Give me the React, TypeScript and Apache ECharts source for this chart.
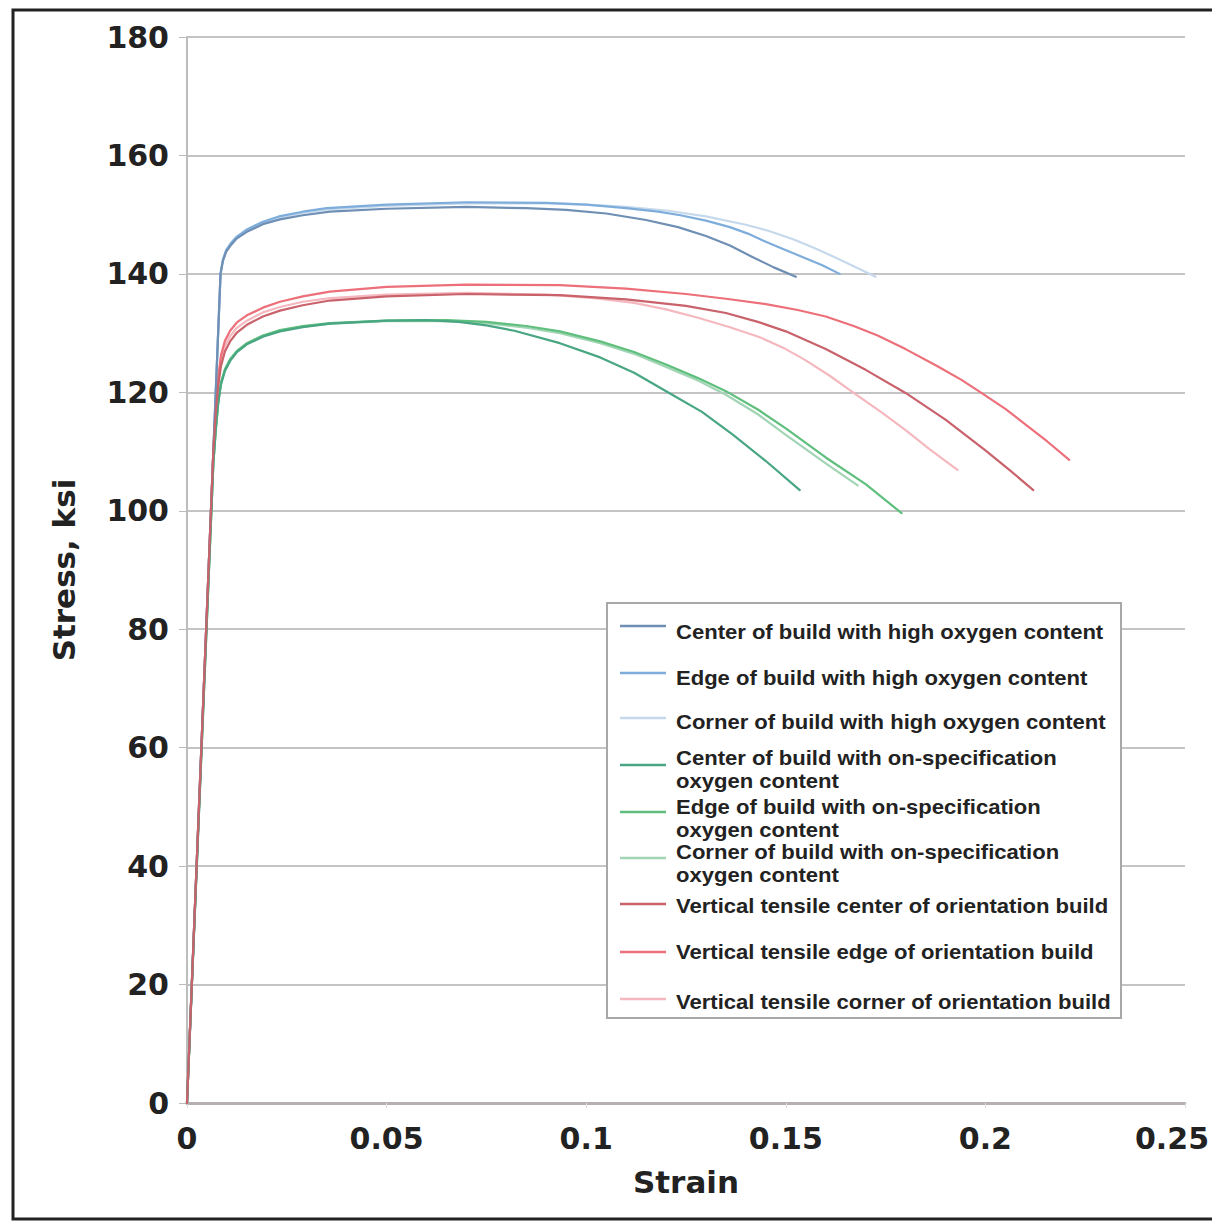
import React, { useEffect, useRef } from "react";
import * as echarts from "echarts";

// ---------- data ----------
const seriesNames = [
  "Center of build with high oxygen content",
  "Edge of build with high oxygen content",
  "Corner of build with high oxygen content",
  "Center of build with on-specification\noxygen content",
  "Edge of build with on-specification\noxygen content",
  "Corner of build with on-specification\noxygen content",
  "Vertical tensile center of orientation build",
  "Vertical tensile edge of orientation build",
  "Vertical tensile corner of orientation build",
];

const seriesColors = [
  "#6f8fb4",
  "#7eaddb",
  "#c6d9ec",
  "#48a682",
  "#5fbf7d",
  "#a2d5b5",
  "#c9626b",
  "#ec6f79",
  "#f4b8be",
];

const centerHighO: [number, number][] = [
  [0, 0], [0.0084, 140], [0.009, 142.2], [0.0098, 143.7], [0.0108, 144.7], [0.0125, 146.0],
  [0.015, 147.1], [0.019, 148.4], [0.0233, 149.2], [0.029, 149.9], [0.0358, 150.5], [0.05, 151.0],
  [0.07, 151.3], [0.085, 151.1], [0.095, 150.8], [0.105, 150.2], [0.115, 149.1], [0.123, 147.9],
  [0.13, 146.4], [0.136, 144.8], [0.1415, 142.9], [0.147, 141.1], [0.1525, 139.5],
];
const edgeHighO: [number, number][] = [
  [0, 0], [0.0084, 140], [0.009, 142.4], [0.0098, 144.0], [0.011, 145.2], [0.0125, 146.3],
  [0.015, 147.5], [0.019, 148.8], [0.023, 149.7], [0.029, 150.5], [0.035, 151.1], [0.05, 151.7],
  [0.07, 152.1], [0.09, 152.0], [0.1, 151.7], [0.11, 151.1], [0.118, 150.5], [0.1236, 149.9],
  [0.13, 149.0], [0.136, 147.9], [0.1405, 146.8], [0.1444, 145.6], [0.149, 144.3], [0.154, 142.9],
  [0.159, 141.5], [0.1635, 140.0],
];
const cornerHighO: [number, number][] = [
  [0, 0], [0.0084, 140], [0.009, 142.3], [0.0098, 143.9], [0.011, 145.0], [0.0125, 146.1],
  [0.015, 147.3], [0.019, 148.6], [0.023, 149.5], [0.029, 150.3], [0.035, 150.9], [0.05, 151.5],
  [0.07, 151.9], [0.09, 151.9], [0.1, 151.7], [0.11, 151.3], [0.12, 150.7], [0.13, 149.7],
  [0.14, 148.3], [0.146, 147.2], [0.152, 145.8], [0.157, 144.4], [0.162, 142.9], [0.167, 141.3],
  [0.1725, 139.5],
];
const centerSpecO: [number, number][] = [
  [0, 0], [0.0066, 108], [0.0072, 113.5], [0.0078, 118.0], [0.0085, 121.3], [0.0095, 123.6],
  [0.0108, 125.3], [0.0125, 126.8], [0.015, 128.1], [0.019, 129.4], [0.0233, 130.3], [0.029, 131.0],
  [0.0358, 131.6], [0.05, 132.1], [0.06, 132.2], [0.068, 131.9], [0.075, 131.3], [0.082, 130.4],
  [0.0934, 128.3], [0.1035, 125.9], [0.112, 123.3], [0.121, 119.8], [0.129, 116.7], [0.1368, 112.8],
  [0.145, 108.4], [0.1535, 103.5],
];
const edgeSpecO: [number, number][] = [
  [0, 0], [0.0066, 108], [0.0072, 113.8], [0.0078, 118.3], [0.0085, 121.6], [0.0095, 123.9],
  [0.0108, 125.6], [0.0125, 127.0], [0.015, 128.3], [0.019, 129.6], [0.0233, 130.5], [0.029, 131.2],
  [0.0358, 131.7], [0.05, 132.1], [0.065, 132.2], [0.075, 131.9], [0.085, 131.2], [0.0934, 130.3],
  [0.1035, 128.6], [0.112, 126.8], [0.12, 124.7], [0.128, 122.4], [0.135, 120.2], [0.143, 117.1],
  [0.15, 113.9], [0.16, 109.0], [0.17, 104.5], [0.179, 99.6],
];
const cornerSpecO: [number, number][] = [
  [0, 0], [0.0066, 108], [0.0072, 113.7], [0.0078, 118.2], [0.0085, 121.5], [0.0095, 123.8],
  [0.0108, 125.5], [0.0125, 126.9], [0.015, 128.2], [0.019, 129.5], [0.0233, 130.4], [0.029, 131.1],
  [0.0358, 131.6], [0.05, 132.0], [0.065, 132.0], [0.075, 131.7], [0.085, 130.9], [0.0934, 130.0],
  [0.1035, 128.3], [0.112, 126.5], [0.12, 124.3], [0.128, 122.0], [0.135, 119.6], [0.143, 116.3],
  [0.15, 112.8], [0.16, 108.0], [0.168, 104.3],
];
const centerVert: [number, number][] = [
  [0, 0], [0.0066, 110], [0.0072, 116.5], [0.0078, 121.0], [0.0085, 124.4], [0.0095, 126.9],
  [0.0108, 128.6], [0.0125, 130.1], [0.015, 131.4], [0.019, 132.8], [0.0233, 133.8], [0.029, 134.7],
  [0.0358, 135.5], [0.05, 136.2], [0.07, 136.6], [0.0934, 136.4], [0.11, 135.7], [0.125, 134.6],
  [0.135, 133.4], [0.143, 131.9], [0.15, 130.3], [0.16, 127.3], [0.17, 123.8], [0.18, 119.9],
  [0.19, 115.4], [0.2, 110.2], [0.206, 106.9], [0.212, 103.5],
];
const edgeVert: [number, number][] = [
  [0, 0], [0.0066, 110], [0.0072, 117.5], [0.0078, 122.5], [0.0085, 126.2], [0.0095, 128.7],
  [0.0108, 130.4], [0.0125, 131.8], [0.015, 133.0], [0.019, 134.3], [0.0233, 135.3], [0.029, 136.2],
  [0.0358, 137.0], [0.05, 137.8], [0.07, 138.2], [0.0934, 138.1], [0.11, 137.5], [0.125, 136.6],
  [0.135, 135.8], [0.145, 134.9], [0.153, 133.9], [0.16, 132.8], [0.167, 131.2], [0.173, 129.6],
  [0.18, 127.3], [0.188, 124.4], [0.194, 122.1], [0.199, 119.9], [0.205, 117.2], [0.21, 114.6],
  [0.2155, 111.7], [0.221, 108.6],
];
const cornerVert: [number, number][] = [
  [0, 0], [0.0066, 110], [0.0072, 117.0], [0.0078, 121.8], [0.0085, 125.3], [0.0095, 127.8],
  [0.0108, 129.5], [0.0125, 130.9], [0.015, 132.1], [0.019, 133.5], [0.0233, 134.4], [0.029, 135.3],
  [0.0358, 135.9], [0.05, 136.5], [0.07, 136.8], [0.09, 136.5], [0.102, 135.9], [0.112, 135.1],
  [0.12, 134.0], [0.128, 132.6], [0.136, 131.0], [0.1435, 129.3], [0.15, 127.3], [0.155, 125.4],
  [0.161, 122.8], [0.167, 119.9], [0.174, 116.6], [0.18, 113.6], [0.186, 110.4], [0.193, 106.9],
];

const seriesData = [
  centerHighO, edgeHighO, cornerHighO,
  centerSpecO, edgeSpecO, cornerSpecO,
  centerVert, edgeVert, cornerVert,
];

const xTicks = [0, 0.05, 0.1, 0.15, 0.2, 0.25];
const yTicks = [0, 20, 40, 60, 80, 100, 120, 140, 160, 180];

// ---------- layout ----------
const W = 1212;
const H = 1222;
const legendBox = { x: 607, y: 603, w: 514, h: 415 };
const legendTextY = [632, 678, 722, 770, 819, 864, 906, 952, 1002];
const legendLineY = [626, 673, 718, 765, 812, 858, 904, 952, 999];

const axisFont = "DejaVu Sans";

export default function App() {
  const ref = useRef<HTMLDivElement>(null);

  useEffect(() => {
    document.body.style.margin = "0";
    if (!ref.current) return;
    const chart = echarts.init(ref.current, undefined, { renderer: "svg" });

    const legendGraphics: any[] = [
      {
        type: "rect",
        shape: { x: legendBox.x, y: legendBox.y, width: legendBox.w, height: legendBox.h },
        style: { fill: "#fff", stroke: "#a8a8a8", lineWidth: 2 },
        z: 50,
      },
    ];
    seriesNames.forEach((name, i) => {
      legendGraphics.push({
        type: "line",
        shape: { x1: 620, y1: legendLineY[i], x2: 666, y2: legendLineY[i] },
        style: { stroke: seriesColors[i], lineWidth: 2.5 },
        z: 51,
      });
      legendGraphics.push({
        type: "text",
        x: 676,
        y: legendTextY[i],
        scaleX: 1.05,
        style: {
          text: name,
          fontFamily: "Liberation Sans",
          fontWeight: "bold",
          fontSize: 21,
          lineHeight: 23,
          fill: "#222",
          align: "left",
          verticalAlign: "middle",
        },
        z: 51,
      });
    });

    const labelBase = { fontFamily: axisFont, fontWeight: "bold", fontSize: 30, color: "#222" };

    const option: any = {
      animation: false,
      backgroundColor: "#fff",
      grid: { left: 187, right: 27, top: 37, bottom: 119, containLabel: false, outerBoundsMode: "none" },
      xAxis: {
        type: "value",
        min: xTicks[0],
        max: xTicks[xTicks.length - 1],
        interval: 0.05,
        name: "Strain",
        nameLocation: "middle",
        nameGap: 63,
        nameTextStyle: { fontFamily: axisFont, fontWeight: "bold", fontSize: 31, color: "#222" },
        axisLine: { show: true, lineStyle: { color: "#b8b0b0", width: 3 } },
        axisTick: { show: true, length: 5, lineStyle: { color: "#ddd" } },
        axisLabel: {
          ...labelBase,
          margin: 20,
          formatter: (v: number) => {
            const s = String(Number(v.toFixed(2)));
            return v >= xTicks[xTicks.length - 1] ? "{m|" + s + "}" : s;
          },
          rich: { m: { ...labelBase, padding: [0, 26, 0, 0] } },
        },
        splitLine: { show: false },
      },
      yAxis: {
        type: "value",
        min: yTicks[0],
        max: yTicks[yTicks.length - 1],
        interval: 20,
        name: "Stress, ksi",
        nameLocation: "middle",
        nameGap: 108,
        nameTextStyle: { fontFamily: axisFont, fontWeight: "bold", fontSize: 31, color: "#222" },
        axisLine: { show: true, lineStyle: { color: "#bdbdbd", width: 2 } },
        axisTick: { show: true, length: 8, lineStyle: { color: "#bbb", width: 1 } },
        axisLabel: { ...labelBase, margin: 18 },
        splitLine: { show: true, lineStyle: { color: "#c4c4c4", width: 2 } },
      },
      series: seriesNames.map((name, i) => ({
        name,
        type: "line",
        data: seriesData[i],
        showSymbol: false,
        smooth: false,
        lineStyle: { color: seriesColors[i], width: 2.2, join: "round", cap: "round" },
        itemStyle: { color: seriesColors[i] },
        z: 10 - (i % 3),
      })),
      graphic: [
        {
          type: "rect",
          shape: { x: 13, y: 10, width: 1220, height: 1209 },
          style: { fill: "none", stroke: "#222", lineWidth: 3 },
          z: 100,
          silent: true,
        },
        ...legendGraphics,
      ],
    };

    chart.setOption(option);
    return () => chart.dispose();
  }, []);

  return <div ref={ref} style={{ width: W, height: H }} />;
}
